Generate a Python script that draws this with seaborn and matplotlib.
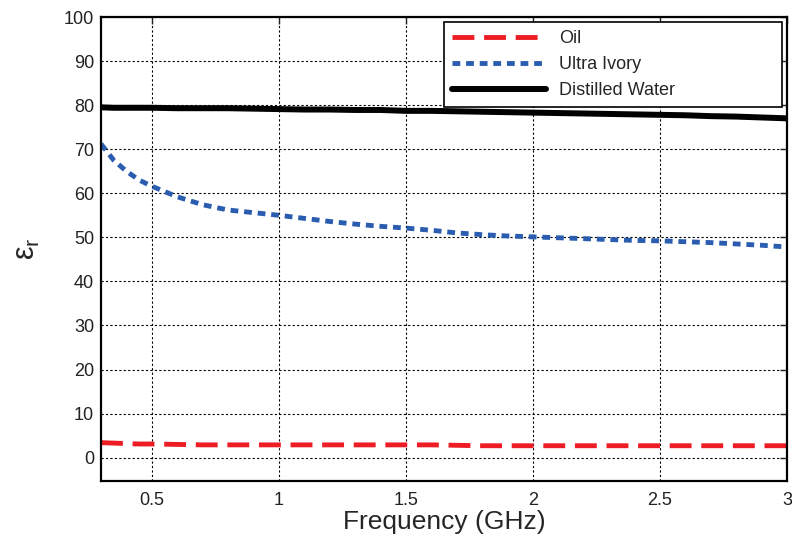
import numpy as np
import pandas as pd
import matplotlib
matplotlib.use("Agg")
import matplotlib.pyplot as plt
import seaborn as sns

freq = [0.3, 0.35, 0.4, 0.45, 0.5, 0.6, 0.7, 0.8, 0.9, 1.0, 1.1, 1.2, 1.3, 1.4, 1.5,
        1.6, 1.7, 1.8, 1.9, 2.0, 2.1, 2.2, 2.3, 2.4, 2.5, 2.6, 2.7, 2.8, 2.9, 3.0]
oil = [3.4, 3.3, 3.2, 3.1, 3.1, 3.0, 2.9, 2.9, 2.9, 2.9, 2.9, 2.9, 2.9, 2.9, 2.9,
       2.9, 2.8, 2.7, 2.7, 2.7, 2.7, 2.7, 2.7, 2.7, 2.7, 2.7, 2.7, 2.7, 2.7, 2.7]
ultra_ivory = [71.2, 67.5, 65.0, 63.0, 61.6, 59.2, 57.4, 56.2, 55.6, 55.0, 54.3, 53.6, 53.0, 52.5, 52.1,
               51.6, 51.0, 50.6, 50.3, 50.1, 49.9, 49.7, 49.5, 49.3, 49.2, 49.0, 48.8, 48.5, 48.2, 47.8]
water = [79.5, 79.4, 79.4, 79.4, 79.4, 79.3, 79.3, 79.3, 79.2, 79.1, 79.0, 79.0, 78.9, 78.9, 78.7,
         78.7, 78.6, 78.5, 78.4, 78.3, 78.2, 78.1, 78.0, 77.9, 77.8, 77.7, 77.5, 77.4, 77.2, 77.0]

series_names = ["Oil", "Ultra Ivory", "Distilled Water"]
colors = ["#ee1c25", "#2a5db0", "#000000"]
xticks = [0.5, 1, 1.5, 2, 2.5, 3]
xticklabels = ["0.5", "1", "1.5", "2", "2.5", "3"]
yticks = list(range(0, 101, 10))

sns.set_theme(style="white")
plt.rcParams['font.family'] = ['Liberation Sans', 'DejaVu Sans']
plt.rcParams['xtick.direction'] = 'in'
plt.rcParams['ytick.direction'] = 'in'

fig = plt.figure(figsize=(7.92, 5.38), dpi=100)
ax = fig.add_axes([101/792, 1 - 481/538, (787 - 101)/792, (481 - 17)/538])

df = pd.DataFrame({"Frequency": freq * 3,
                   "eps": oil + ultra_ivory + water,
                   "Series": [series_names[0]] * len(freq) + [series_names[1]] * len(freq)
                             + [series_names[2]] * len(freq)})

lws = [3.5, 3.5, 4.3]
dash_list = [(4.5, 2.0), (1.6, 1.2), None]
for name, col, lw, d in zip(series_names, colors, lws, dash_list):
    sub = df[df["Series"] == name]
    sns.lineplot(data=sub, x="Frequency", y="eps", color=col, lw=lw, ax=ax, label=name,
                 estimator=None, sort=True)
    line = ax.get_lines()[-1]
    if d is not None:
        line.set_dashes(d)
        line.set_dash_capstyle('butt')

ax.set_xlim(0.3, 3)
ax.set_ylim(-5.3, 100)
ax.set_xticks(xticks)
ax.set_xticklabels(xticklabels)
ax.set_yticks(yticks)
ax.tick_params(axis='both', labelsize=13, colors='#222222', length=5, width=1,
               top=True, right=True)
ax.tick_params(axis='x', pad=8)
ax.tick_params(axis='y', pad=5)
ax.grid(True, color='black', linestyle=(0, (2, 2)), linewidth=0.8)
for s in ax.spines.values():
    s.set_color('black')
    s.set_linewidth(1.6)

ax.set_xlabel("Frequency (GHz)", fontsize=19, labelpad=1)
ax.set_ylabel("ε$_\\mathregular{r}$", fontsize=22, labelpad=16)

leg = ax.legend(loc='upper left', mode='expand', fontsize=13, handlelength=5.2,
                frameon=True, fancybox=False, edgecolor='black', borderaxespad=0,
                borderpad=0.45, labelspacing=0.5, handletextpad=0.7,
                bbox_to_anchor=(0.5, 0.8147, 0.4927, 0.175))
leg.get_frame().set_linewidth(1.2)
leg.get_frame().set_alpha(1)

fig.savefig("out.png", dpi=100)
